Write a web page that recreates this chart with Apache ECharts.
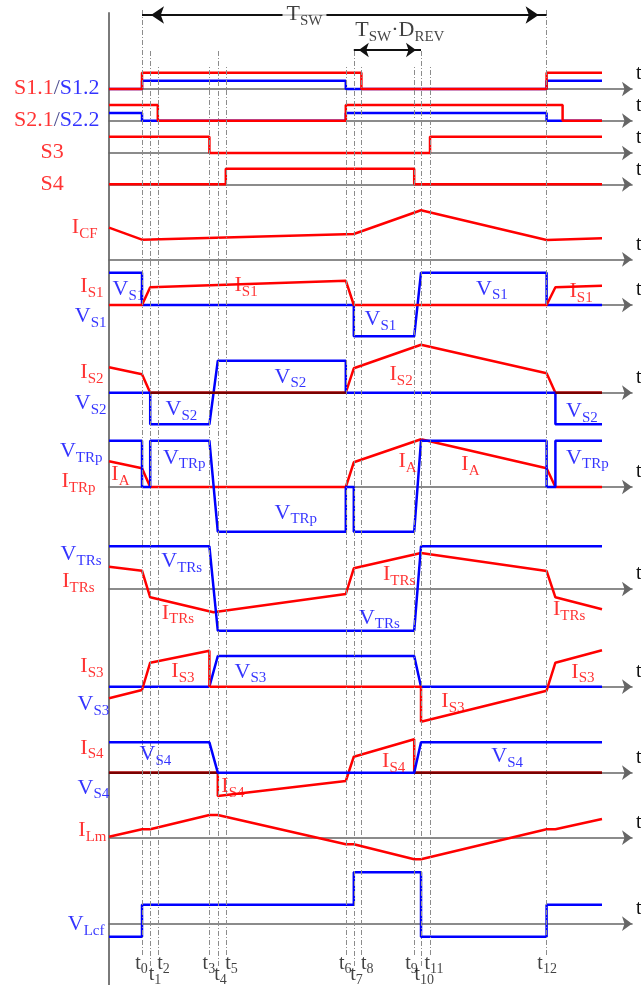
<!DOCTYPE html>
<html><head><meta charset="utf-8">
<script src="https://cdn.jsdelivr.net/npm/echarts@6/dist/echarts.min.js"></script>
<style>html,body{margin:0;padding:0;background:#fff}#c{width:641px;height:985px}</style>
</head><body><div id="c"></div>
<script>
// ---------- event times (arbitrary time units) ----------
const t0=8.25,t1=10.3,t2=12.2,t3=25.1,t4=27.2,t5=29.2,t6=59.2,t7=61.2,t8=63.1,t9=76.3,t10=78.0,t11=80.25,t12=109.4,t13=111.6,t14=113.4,tEnd=123.25;
const tickTimes=[t0,t1,t2,t3,t4,t5,t6,t7,t8,t9,t10,t11,t12];
const tickNames=['0','1','2','3','4','5','6','7','8','9','10','11','12'];

// ---------- waveforms [time, level] ----------
const s11=[[0,0],[t0,0],[t0,16.3],[t8,16.3],[t8,0],[t12,0],[t12,16.3],[tEnd,16.3]];
const s12=[[0,0],[t0,0],[t0,8.3],[t6,8.3],[t6,0],[t12,0],[t12,8.3],[tEnd,8.3]];
const s21=[[0,15.7],[t2,15.7],[t2,0],[t6,0],[t6,15.7],[t14,15.7],[t14,0],[tEnd,0]];
const s22=[[0,7.7],[t0,7.7],[t0,0],[t6,0],[t6,7.7],[t12,7.7],[t12,0],[tEnd,0]];
const s3=[[0,16.3],[t3,16.3],[t3,0],[t11,0],[t11,16.3],[tEnd,16.3]];
const s4=[[0,0],[t5,0],[t5,15.6],[t9,15.6],[t9,0],[tEnd,0]];
const iCF=[[0,31.6],[t0,19.6],[t7,25.3],[t10,49],[t12,19.3],[tEnd,21]];
const vS1=[[0,32.3],[t0,32.3],[t0,0],[t7,0],[t7,-31.3],[t9,-31.3],[t10,32.3],[t12,32.3],[t12,0],[tEnd,0]];
const iS1=[[0,0],[t0,0],[t1,17.7],[t6,24.3],[t7,0],[t12,0],[t13,17.7],[tEnd,19.3]];
const vS2=[[0,0],[t1,0],[t1,-31.6],[t3,-31.6],[t4,32],[t6,32],[t6,0],[t13,0],[t13,-31.6],[tEnd,-31.6]];
const iS2=[[0,25.4],[t0,18.4],[t1,0],[t6,0],[t7,24.4],[t10,48],[t12,19.4],[t13,0],[tEnd,0]];
const vTRp=[[0,46.3],[t0,46.3],[t0,0],[t1,0],[t1,46.3],[t3,46.3],[t4,-44.7],[t6,-44.7],[t6,0],[t7,0],[t7,-44.7],[t9,-44.7],[t10,46.3],[t12,46.3],[t12,0],[t13,0],[t13,46.3],[tEnd,46.3]];
const iA=[[0,25.7],[t0,18.7],[t1,0],[t6,0],[t7,24.7],[t10,47.7],[t12,18.7],[t13,0],[tEnd,0]];
const vTRs=[[0,42.7],[t3,42.7],[t4,-41.7],[t9,-41.7],[t10,42.7],[tEnd,42.7]];
const iTRs=[[0,22.3],[t0,18.3],[t1,-8.3],[26.1,-23.3],[t6,-5],[t7,20.7],[t10,36],[t12,18],[t13,-8.3],[tEnd,-20.3]];
const vS3=[[0,0],[t3,0],[t4,30.7],[t9,30.7],[t10,0],[tEnd,0]];
const iS3=[[0,-11.6],[t0,-3.3],[t1,24],[t3,36],[t3,0],[t10,0],[t10,-35],[t12,-4],[t13,24],[tEnd,36.4]];
const vS4=[[0,30.4],[t3,30.4],[t4,0],[t9,0],[t10,30.4],[tEnd,30.4]];
const iS4=[[0,0],[t4,0],[t4,-23.3],[t6,-8.3],[t7,16],[t9,33.4],[t9,0],[tEnd,0]];
const iLm=[[0,1],[t0,8.4],[t1,8.4],[t3,22.7],[t4,22.7],[t6,-6.6],[t7,-6.6],[t9,-21.6],[t10,-21.6],[t12,8.4],[t13,8.4],[tEnd,18.7]];
const vLcf=[[0,-13],[t0,-13],[t0,19],[t7,19],[t7,51.4],[t10,51.4],[t10,-13],[t12,-13],[t12,19],[tEnd,19]];

// ---------- styling / layout ----------
const RED='#ff0000', BLUE='#0000ff', GRAY='#666666', DRED='#7a0000', INK='#111111';
const FONT='"Liberation Serif","Times New Roman",serif';
const X_MAX=130.75;
const rowLayout=[
 {base:89,min:-10,max:20},{base:120.7,min:-10,max:20},{base:153,min:-10,max:20},{base:184.3,min:-10,max:20},
 {base:259.3,min:-10,max:55},{base:305,min:-35,max:35},{base:392.7,min:-35,max:50},{base:487,min:-48,max:50},
 {base:589,min:-45,max:45},{base:686.7,min:-40,max:40},{base:772.7,min:-30,max:36},{base:837.7,min:-25,max:25},
 {base:923.7,min:-15,max:55}
];
function zeroRuns(d){const out=[];for(let i=0;i<d.length-1;i++){if(d[i][1]===0&&d[i+1][1]===0)out.push([d[i],d[i+1]]);}return out;}
const rowSeries=[
 [[s12,BLUE],[s11,RED]],
 [[s22,BLUE],[s21,RED]],
 [[s3,RED]],
 [[s4,RED]],
 [[iCF,RED]],
 [[vS1,BLUE],[iS1,RED]],
 [[iS2,RED],[vS2,BLUE]].concat(zeroRuns(iS2).map(s=>[s,DRED])),
 [[iA,RED],[vTRp,BLUE]],
 [[iTRs,RED],[vTRs,BLUE]],
 [[vS3,BLUE],[iS3,RED]],
 [[iS4,RED]].concat(zeroRuns(iS4).map(s=>[s,DRED])).concat([[vS4,BLUE]]),
 [[iLm,RED]],
 [[vLcf,BLUE]]
];
// [row, time, level, text, align]
const leftLabels=[
 [0,-2.25,0.7,'{r|S1.1}{n|/}{b|S1.2}','right'],
 [1,-2.25,0,'{r|S2.1}{n|/}{b|S2.2}','right'],
 [2,-14.1,0,'{r|S3}','center'],
 [3,-14.1,0,'{r|S4}','center'],
 [4,-2.75,31.5,'{r|I}{rs|CF}','right'],
 [5,-1.25,18,'{r|I}{rs|S1}','right'],
 [5,-0.5,-11.7,'{b|V}{bs|S1}','right'],
 [6,-1.25,19.7,'{r|I}{rs|S2}','right'],
 [6,-0.5,-11.3,'{b|V}{bs|S2}','right'],
 [7,-1.5,35.3,'{b|V}{bs|TRp}','right'],
 [7,-3.25,5.3,'{r|I}{rs|TRp}','right'],
 [8,-1.75,34,'{b|V}{bs|TRs}','right'],
 [8,-3.5,7.3,'{r|I}{rs|TRs}','right'],
 [9,-1.25,20,'{r|I}{rs|S3}','right'],
 [9,0.2,-18.3,'{b|V}{bs|S3}','right'],
 [10,-1.25,24.4,'{r|I}{rs|S4}','right'],
 [10,0.2,-15.6,'{b|V}{bs|S4}','right'],
 [11,-0.5,7,'{r|I}{rs|Lm}','right'],
 [12,-1,-1.3,'{b|V}{bs|Lcf}','right']
];
const inLabels=[
 [5,1.0,15,'{b|V}{bs|S1}'],[5,31.5,19,'{r|I}{rs|S1}'],[5,64,-15,'{b|V}{bs|S1}'],[5,91.9,15.7,'{b|V}{bs|S1}'],[5,115.25,13.3,'{r|I}{rs|S1}'],
 [6,41.5,15.4,'{b|V}{bs|S2}'],[6,14.25,-17.3,'{b|V}{bs|S2}'],[6,70.25,17.7,'{r|I}{rs|S2}'],[6,114.4,-19,'{b|V}{bs|S2}'],
 [7,0.7,12,'{r|I}{rs|A}'],[7,13.6,28.7,'{b|V}{bs|TRp}'],[7,41.5,-26.3,'{b|V}{bs|TRp}'],[7,72.5,25.3,'{r|I}{rs|A}'],[7,88.2,22,'{r|I}{rs|A}'],[7,114.4,28.7,'{b|V}{bs|TRp}'],
 [8,13.2,27.3,'{b|V}{bs|TRs}'],[8,13.3,-24.3,'{r|I}{rs|TRs}'],[8,68.6,14,'{r|I}{rs|TRs}'],[8,62.6,-29.3,'{b|V}{bs|TRs}'],[8,111.1,-21,'{r|I}{rs|TRs}'],
 [9,15.7,15,'{r|I}{rs|S3}'],[9,31.5,14.4,'{b|V}{bs|S3}'],[9,83.2,-15,'{r|I}{rs|S3}'],[9,115.7,14.4,'{r|I}{rs|S3}'],
 [10,7.75,17.7,'{b|V}{bs|S4}'],[10,28.2,-14,'{r|I}{rs|S4}'],[10,68.4,11,'{r|I}{rs|S4}'],[10,95.7,16,'{b|V}{bs|S4}']
];
const tickGroup=['C','B','A','A','B','A','A','B','A','A','B','A','C'];
const tickAlign=['center','left','left','center','left','left','center','left','left','right','left','left','center'];
const tickDx=[0,-1,0,0,-3,0,0,-3,0,4,-6,-5,1];
const tswLabelTime=43.5;

function mainTok(c){return {color:c,fontFamily:FONT,fontSize:22,lineHeight:22,verticalAlign:'top'};}
function subTok(c){return {color:c,fontFamily:FONT,fontSize:15,lineHeight:15,padding:[10,0,0,0],verticalAlign:'top'};}
const RICH={r:mainTok(RED),rs:subTok(RED),b:mainTok(BLUE),bs:subTok(BLUE),n:mainTok('#1c1c70'),k:mainTok(INK),ks:subTok(INK),
 t:{color:INK,fontFamily:FONT,fontSize:20,lineHeight:20,verticalAlign:'top'},
 ts:{color:INK,fontFamily:FONT,fontSize:14,lineHeight:14,padding:[9,0,0,0],verticalAlign:'top'}};

const grids=[],xAxis=[],yAxis=[],series=[];
function addGrid(g,xo,yo){
 const i=grids.length;
 grids.push(Object.assign({left:109,right:9,containLabel:false,outerBoundsMode:'none'},g));
 xAxis.push(Object.assign({gridIndex:i,type:'value',min:0,max:X_MAX,axisTick:{show:false},axisLabel:{show:false},splitLine:{show:false},axisLine:{show:false}},xo));
 yAxis.push(Object.assign({gridIndex:i,type:'value',min:0,max:1,axisTick:{show:false},axisLabel:{show:false},splitLine:{show:false},axisLine:{show:false}},yo));
 return i;
}
function labelSeries(gi,items,z){
 return {type:'scatter',xAxisIndex:gi,yAxisIndex:gi,symbolSize:1,itemStyle:{color:'rgba(0,0,0,0)'},clip:false,silent:true,z:z||20,
  label:{show:true,position:[0,0],verticalAlign:'middle',rich:RICH},data:items};
}

// main vertical axis
addGrid({top:13,bottom:0},{},{axisLine:{show:true,onZero:false,lineStyle:{color:'#7a7a7a',width:2}}});

// dashed time markers + tick names
['A','B','C'].forEach(g=>{
 const box=g==='A'?{top:67,bottom:30}:g==='B'?{top:50,bottom:19}:{top:10,bottom:30};
 const gi=addGrid(box,{},{});
 const idx=tickTimes.map((t,i)=>i).filter(i=>tickGroup[i]===g);
 series.push({type:'scatter',xAxisIndex:gi,yAxisIndex:gi,data:[],silent:true,z:1,
  markLine:{silent:true,symbol:['none','none'],animation:false,label:{show:false},
   lineStyle:{color:'#8c8c8c',width:1,type:[5,2,1,2]},data:idx.map(i=>({xAxis:tickTimes[i]}))}});
 series.push(labelSeries(gi,idx.map(i=>({value:[tickTimes[i],0],label:{formatter:()=>'{t|t}{ts|'+tickNames[i]+'}',align:tickAlign[i],offset:[tickDx[i],9]}}))));
});

// rows
rowLayout.forEach((r,k)=>{
 const gi=addGrid({top:r.base-r.max,height:r.max-r.min},
  {axisLine:{show:true,onZero:true,symbol:['none','arrow'],symbolSize:[11,10],lineStyle:{color:GRAY,width:1.6}},
   name:'t',nameLocation:'end',nameGap:4,nameMoveOverlap:false,
   nameTextStyle:{fontFamily:FONT,fontSize:20,color:INK,align:'left',verticalAlign:'bottom',padding:[0,0,5,0]}},
  {min:r.min,max:r.max});
 rowSeries[k].forEach(([d,c],j)=>{
  series.push({type:'line',xAxisIndex:gi,yAxisIndex:gi,data:d,symbol:'none',showSymbol:false,silent:true,z:3+j,
   lineStyle:{color:c,width:2.5},itemStyle:{color:c}});
 });
 const items=leftLabels.filter(a=>a[0]===k).map(a=>({value:[a[1],a[2]],label:{formatter:()=>a[3],align:a[4]}}))
  .concat(inLabels.filter(a=>a[0]===k).map(a=>({value:[a[1],a[2]],label:{formatter:()=>a[3],align:'left'}})));
 if(items.length) series.push(labelSeries(gi,items));
});

// top period arrows
const gt=addGrid({top:15,height:35},{},{});
series.push({type:'scatter',xAxisIndex:gt,yAxisIndex:gt,data:[],silent:true,z:5,
 markLine:{silent:true,animation:false,symbol:['arrow','arrow'],label:{show:false},
  lineStyle:{color:INK,width:2,type:'solid'},
  data:[[{coord:[t0,1],symbolSize:[13,13],symbolOffset:[0,9]},{coord:[t12,1],symbolSize:[13,13],symbolOffset:[0,8]}],
        [{coord:[t7,0],symbolSize:[11,10],symbolOffset:[0,5]},{coord:[t10,0],symbolSize:[11,10],symbolOffset:[0,5]}]]}});
series.push(labelSeries(gt,[
 {value:[tswLabelTime,1],label:{formatter:()=>'{k|T}{ks|SW}',align:'left',backgroundColor:'#fff',padding:[0,4]}},
 {value:[t7,0],label:{formatter:()=>'{k|T}{ks|SW}{k|·D}{ks|REV}',align:'left',offset:[2,-19]}}
],30));

const chart=echarts.init(document.getElementById('c'),null,{renderer:'canvas'});
chart.setOption({animation:false,backgroundColor:'#ffffff',grid:grids,xAxis:xAxis,yAxis:yAxis,series:series});
</script></body></html>
